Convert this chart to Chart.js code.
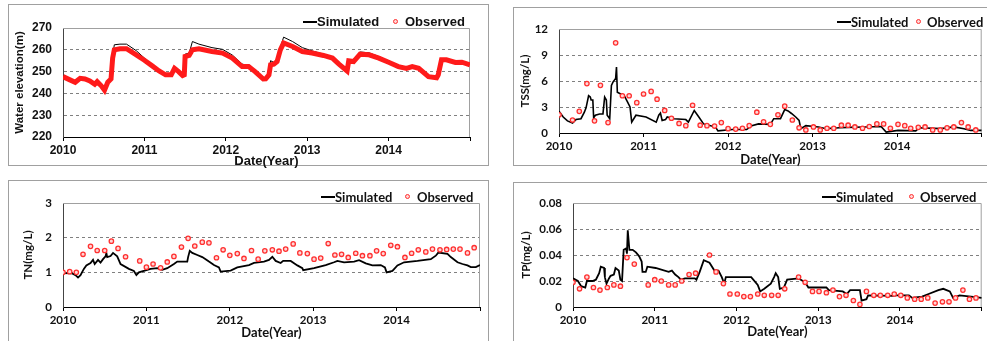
<!DOCTYPE html>
<html>
<head>
<meta charset="utf-8">
<script src="https://cdn.jsdelivr.net/npm/chart.js@4.4.1/dist/chart.umd.min.js"></script>
<style>
  body { margin: 0; background: #fff; width: 987px; height: 341px; overflow: hidden; position: relative; }
  .frame { position: absolute; border: 1px solid #a0a0a0; box-sizing: border-box; }
  canvas { position: absolute; }
  .lg { position: absolute; font-weight: bold; color: #111; white-space: nowrap; line-height: 14px; font-size: 13px; }
  .lg-line { position: absolute; height: 2px; background: #000; }
  .lg-dot { position: absolute; width: 3px; height: 3px; border: 1.3px solid #ff3030; border-radius: 50%; background: #ffd6d6; }
  .arial { font-family: "Liberation Sans", Arial, sans-serif; }
  .lato { font-family: Lato, "Noto Sans", sans-serif; }
</style>
</head>
<body>
<div class="frame" style="left:8px;top:4px;width:481px;height:162px"></div>
<div class="frame" style="left:513px;top:7px;width:500px;height:159px"></div>
<div class="frame" style="left:8px;top:180px;width:481px;height:200px"></div>
<div class="frame" style="left:513px;top:182px;width:500px;height:200px"></div>

<canvas id="chartElev" width="493" height="170" style="left:0;top:0"></canvas>
<canvas id="chartTss" width="482" height="170" style="left:505px;top:0"></canvas>
<canvas id="chartTn" width="493" height="169" style="left:0;top:172px"></canvas>
<canvas id="chartTp" width="482" height="169" style="left:505px;top:172px"></canvas>

<div id="legends"></div>

<script>
// Water elevation (m): simulated and observed share the same dates
const elevYears = [2010.00, 2010.085, 2010.15, 2010.21, 2010.27, 2010.33, 2010.39, 2010.42, 2010.47, 2010.51, 2010.55, 2010.59, 2010.61, 2010.63, 2010.70, 2010.78, 2010.90, 2011.00, 2011.10, 2011.18, 2011.26, 2011.33, 2011.37, 2011.42, 2011.47, 2011.49, 2011.50, 2011.55, 2011.59, 2011.67, 2011.83, 2011.96, 2012.08, 2012.20, 2012.28, 2012.36, 2012.46, 2012.49, 2012.53, 2012.55, 2012.59, 2012.63, 2012.67, 2012.71, 2012.82, 2012.94, 2013.06, 2013.20, 2013.31, 2013.39, 2013.49, 2013.51, 2013.57, 2013.65, 2013.76, 2013.88, 2014.00, 2014.12, 2014.22, 2014.29, 2014.37, 2014.49, 2014.59, 2014.61, 2014.65, 2014.71, 2014.82, 2014.90, 2015.00];
const elevSim = [247.9, 246.4, 245.3, 247.0, 246.8, 245.8, 244.4, 245.5, 243.5, 240.8, 245.0, 246.6, 256.5, 262.3, 262.6, 262.6, 259.6, 256.2, 253.0, 250.5, 248.6, 248.6, 251.8, 250.2, 248.3, 248.4, 258.0, 258.5, 263.8, 262.6, 261.0, 260.2, 257.6, 253.5, 252.6, 250.2, 246.6, 246.4, 248.6, 255.0, 254.2, 255.5, 261.0, 265.8, 263.8, 261.0, 259.5, 258.0, 256.8, 253.6, 250.5, 255.0, 255.0, 259.0, 258.6, 256.9, 254.9, 252.6, 251.6, 252.4, 251.6, 247.6, 246.8, 248.6, 255.8, 255.6, 254.4, 254.4, 253.2];
const elevObs = [247.7, 246.2, 245.1, 246.9, 246.6, 245.7, 244.2, 245.4, 243.5, 241.5, 245.1, 246.6, 256.2, 260.0, 260.5, 260.5, 257.7, 255.2, 252.5, 250.3, 248.5, 248.5, 251.5, 250.0, 248.2, 248.5, 256.9, 257.4, 260.0, 260.5, 259.2, 258.5, 256.2, 252.3, 252.3, 250.0, 246.6, 246.7, 248.5, 253.1, 253.4, 254.6, 260.0, 263.1, 261.5, 259.2, 258.5, 257.4, 256.2, 253.4, 250.3, 254.9, 254.6, 258.0, 257.7, 256.2, 254.3, 252.3, 251.5, 252.3, 251.5, 247.7, 247.2, 248.5, 255.4, 255.4, 254.2, 254.3, 253.1];

// TSS (mg/L)
const tssSimYears = [2010.00, 2010.05, 2010.10, 2010.16, 2010.20, 2010.26, 2010.30, 2010.32, 2010.35, 2010.37, 2010.38, 2010.40, 2010.41, 2010.43, 2010.48, 2010.52, 2010.54, 2010.56, 2010.57, 2010.60, 2010.62, 2010.64, 2010.67, 2010.68, 2010.69, 2010.73, 2010.77, 2010.81, 2010.84, 2010.86, 2010.91, 2011.03, 2011.15, 2011.18, 2011.20, 2011.22, 2011.26, 2011.28, 2011.36, 2011.50, 2011.53, 2011.60, 2011.65, 2011.71, 2011.85, 2011.88, 2012.05, 2012.22, 2012.27, 2012.36, 2012.50, 2012.54, 2012.62, 2012.67, 2012.71, 2012.75, 2012.80, 2012.84, 2012.86, 2012.92, 2013.07, 2013.16, 2013.32, 2013.42, 2013.62, 2013.81, 2013.87, 2014.01, 2014.22, 2014.26, 2014.52, 2014.67, 2014.79, 2014.87, 2015.00];
const tssSim = [2.5, 1.85, 1.4, 1.15, 1.55, 1.65, 2.4, 2.9, 4.3, 4.15, 3.8, 3.8, 1.75, 2.05, 2.2, 2.2, 4.15, 3.8, 2.05, 1.65, 5.5, 5.9, 6.3, 7.6, 4.7, 4.5, 4.35, 3.6, 3.0, 1.25, 2.05, 1.85, 1.25, 2.05, 2.3, 1.45, 1.55, 1.85, 1.65, 1.55, 1.25, 2.6, 1.9, 1.05, 0.7, 0.25, 0.4, 0.4, 0.8, 1.05, 1.0, 1.65, 1.65, 2.7, 2.55, 2.25, 1.85, 1.45, 0.5, 0.85, 0.7, 0.5, 0.6, 0.65, 0.7, 0.75, 0.1, 0.3, 0.25, 0.6, 0.5, 0.7, 0.5, 0.3, 0.3];
const tssObsYears = [2010.00, 2010.16, 2010.24, 2010.33, 2010.42, 2010.49, 2010.58, 2010.67, 2010.75, 2010.83, 2010.92, 2011.00, 2011.09, 2011.16, 2011.25, 2011.33, 2011.42, 2011.50, 2011.58, 2011.67, 2011.75, 2011.84, 2011.92, 2012.00, 2012.09, 2012.17, 2012.25, 2012.34, 2012.42, 2012.50, 2012.59, 2012.67, 2012.76, 2012.84, 2012.92, 2013.01, 2013.09, 2013.17, 2013.25, 2013.34, 2013.42, 2013.50, 2013.59, 2013.67, 2013.76, 2013.84, 2013.92, 2014.01, 2014.09, 2014.16, 2014.25, 2014.33, 2014.42, 2014.51, 2014.59, 2014.67, 2014.76, 2014.84, 2014.93];
const tssObs = [2.1, 1.5, 2.5, 5.7, 1.4, 5.5, 1.2, 10.4, 4.3, 4.3, 3.5, 4.5, 4.8, 3.9, 2.6, 1.7, 1.1, 0.85, 3.2, 0.9, 0.85, 0.8, 1.2, 0.5, 0.45, 0.55, 0.85, 2.4, 1.3, 1.0, 2.1, 3.1, 1.5, 0.6, 0.35, 0.7, 0.35, 0.55, 0.55, 0.9, 0.9, 0.7, 0.55, 0.75, 1.05, 1.05, 0.55, 1.0, 0.85, 0.55, 0.65, 0.7, 0.35, 0.35, 0.6, 0.7, 1.2, 0.7, 0.35];

// TN (mg/L)
const tnSimYears = [2010.00, 2010.11, 2010.15, 2010.18, 2010.21, 2010.25, 2010.28, 2010.33, 2010.36, 2010.38, 2010.42, 2010.45, 2010.48, 2010.51, 2010.52, 2010.53, 2010.57, 2010.60, 2010.65, 2010.69, 2010.79, 2010.85, 2010.88, 2010.91, 2011.05, 2011.13, 2011.19, 2011.25, 2011.33, 2011.37, 2011.49, 2011.50, 2011.52, 2011.55, 2011.61, 2011.67, 2011.71, 2011.75, 2011.81, 2011.87, 2011.89, 2012.01, 2012.09, 2012.23, 2012.29, 2012.41, 2012.47, 2012.51, 2012.55, 2012.61, 2012.64, 2012.73, 2012.81, 2012.87, 2012.88, 2013.01, 2013.15, 2013.25, 2013.29, 2013.37, 2013.49, 2013.55, 2013.63, 2013.71, 2013.81, 2013.86, 2013.88, 2013.95, 2014.01, 2014.09, 2014.25, 2014.41, 2014.47, 2014.50, 2014.61, 2014.65, 2014.73, 2014.79, 2014.85, 2014.89, 2014.95, 2015.00];
const tnSim = [0.98, 0.97, 0.92, 0.85, 0.92, 1.1, 1.2, 1.27, 1.36, 1.24, 1.36, 1.28, 1.38, 1.46, 1.56, 1.44, 1.47, 1.56, 1.46, 1.24, 1.1, 1.04, 0.92, 1.0, 1.1, 1.12, 1.07, 1.12, 1.24, 1.31, 1.31, 1.44, 1.62, 1.56, 1.5, 1.44, 1.38, 1.31, 1.21, 1.14, 1.02, 1.05, 1.14, 1.21, 1.27, 1.31, 1.36, 1.45, 1.33, 1.27, 1.33, 1.33, 1.2, 1.12, 1.06, 1.12, 1.21, 1.29, 1.33, 1.29, 1.31, 1.35, 1.26, 1.2, 1.21, 1.14, 1.0, 1.04, 1.2, 1.29, 1.33, 1.38, 1.48, 1.57, 1.53, 1.44, 1.29, 1.24, 1.2, 1.15, 1.15, 1.21];
const tnObsYears = [2010.00, 2010.08, 2010.16, 2010.24, 2010.33, 2010.41, 2010.50, 2010.58, 2010.66, 2010.75, 2010.92, 2011.00, 2011.08, 2011.17, 2011.25, 2011.33, 2011.42, 2011.50, 2011.58, 2011.67, 2011.75, 2011.84, 2011.92, 2012.00, 2012.09, 2012.17, 2012.26, 2012.34, 2012.42, 2012.51, 2012.59, 2012.67, 2012.76, 2012.84, 2012.93, 2013.01, 2013.09, 2013.18, 2013.26, 2013.34, 2013.42, 2013.51, 2013.59, 2013.68, 2013.76, 2013.84, 2013.93, 2014.01, 2014.10, 2014.18, 2014.26, 2014.35, 2014.43, 2014.52, 2014.60, 2014.68, 2014.76, 2014.85, 2014.93];
const tnObs = [1.0, 1.02, 1.0, 1.52, 1.75, 1.63, 1.63, 1.9, 1.69, 1.45, 1.33, 1.15, 1.24, 1.13, 1.3, 1.46, 1.73, 1.98, 1.76, 1.87, 1.85, 1.42, 1.65, 1.49, 1.54, 1.4, 1.63, 1.38, 1.62, 1.65, 1.61, 1.67, 1.82, 1.56, 1.54, 1.38, 1.41, 1.83, 1.5, 1.52, 1.43, 1.55, 1.48, 1.48, 1.62, 1.54, 1.78, 1.74, 1.43, 1.55, 1.65, 1.59, 1.67, 1.65, 1.66, 1.67, 1.67, 1.56, 1.71];

// TP (mg/L)
const tpSimYears = [2010.00, 2010.06, 2010.10, 2010.15, 2010.17, 2010.24, 2010.28, 2010.32, 2010.34, 2010.38, 2010.39, 2010.41, 2010.44, 2010.46, 2010.50, 2010.52, 2010.56, 2010.58, 2010.60, 2010.62, 2010.65, 2010.66, 2010.67, 2010.69, 2010.73, 2010.77, 2010.81, 2010.84, 2010.85, 2010.89, 2010.91, 2011.01, 2011.17, 2011.21, 2011.25, 2011.29, 2011.32, 2011.37, 2011.49, 2011.51, 2011.55, 2011.60, 2011.67, 2011.73, 2011.78, 2011.82, 2011.85, 2011.87, 2012.18, 2012.26, 2012.29, 2012.34, 2012.42, 2012.46, 2012.48, 2012.51, 2012.53, 2012.58, 2012.62, 2012.76, 2012.84, 2012.88, 2013.10, 2013.13, 2013.30, 2013.35, 2013.39, 2013.51, 2013.53, 2013.59, 2013.61, 2013.91, 2013.95, 2014.11, 2014.15, 2014.27, 2014.35, 2014.47, 2014.53, 2014.61, 2014.65, 2014.73, 2014.87, 2015.00];
const tpSim = [0.022, 0.02, 0.016, 0.015, 0.02, 0.02, 0.021, 0.026, 0.031, 0.03, 0.023, 0.018, 0.022, 0.024, 0.025, 0.03, 0.028, 0.021, 0.02, 0.044, 0.045, 0.041, 0.059, 0.044, 0.044, 0.042, 0.039, 0.035, 0.027, 0.027, 0.031, 0.03, 0.027, 0.028, 0.025, 0.023, 0.021, 0.022, 0.022, 0.021, 0.027, 0.036, 0.034, 0.028, 0.028, 0.023, 0.018, 0.023, 0.023, 0.017, 0.012, 0.014, 0.018, 0.023, 0.026, 0.023, 0.014, 0.015, 0.021, 0.022, 0.019, 0.015, 0.015, 0.013, 0.012, 0.01, 0.013, 0.013, 0.005, 0.006, 0.009, 0.0085, 0.009, 0.009, 0.007, 0.008, 0.01, 0.013, 0.014, 0.012, 0.007, 0.009, 0.008, 0.007];
const tpObsYears = [2010.00, 2010.08, 2010.17, 2010.25, 2010.33, 2010.42, 2010.50, 2010.58, 2010.66, 2010.75, 2010.92, 2011.00, 2011.08, 2011.17, 2011.25, 2011.33, 2011.42, 2011.50, 2011.67, 2011.75, 2011.84, 2011.92, 2012.01, 2012.09, 2012.17, 2012.26, 2012.34, 2012.43, 2012.51, 2012.59, 2012.76, 2012.84, 2012.93, 2013.01, 2013.10, 2013.18, 2013.26, 2013.34, 2013.43, 2013.51, 2013.59, 2013.68, 2013.76, 2013.85, 2013.93, 2014.01, 2014.09, 2014.18, 2014.26, 2014.34, 2014.43, 2014.52, 2014.60, 2014.68, 2014.77, 2014.85, 2014.93];
const tpObs = [0.019, 0.014, 0.023, 0.015, 0.013, 0.015, 0.017, 0.016, 0.038, 0.033, 0.017, 0.021, 0.02, 0.017, 0.017, 0.02, 0.025, 0.026, 0.04, 0.027, 0.018, 0.01, 0.01, 0.008, 0.008, 0.01, 0.009, 0.009, 0.009, 0.014, 0.023, 0.019, 0.012, 0.012, 0.011, 0.013, 0.008, 0.009, 0.005, 0.002, 0.012, 0.009, 0.009, 0.009, 0.01, 0.009, 0.007, 0.006, 0.006, 0.007, 0.003, 0.004, 0.004, 0.007, 0.013, 0.006, 0.007];

const frameColor = "#a0a0a0";

function toPoints(xs, ys) {
  return xs.map((x, i) => ({ x: x, y: ys[i] }));
}

// grey top/right border of the plot area (Excel style)
const plotFrame = {
  id: "plotFrame",
  beforeDatasetsDraw(chart) {
    const { ctx, chartArea: a } = chart;
    ctx.save();
    ctx.strokeStyle = frameColor;
    ctx.lineWidth = 1;
    ctx.beginPath();
    ctx.moveTo(a.left, a.top + 0.5);
    ctx.lineTo(a.right - 0.5, a.top + 0.5);
    ctx.lineTo(a.right - 0.5, a.bottom);
    ctx.stroke();
    ctx.restore();
  },
};

function crearPanel(canvasId, cfg) {
  const canvas = document.getElementById(canvasId);
  const W = canvas.width;
  const H = canvas.height;
  const p = cfg.plot;
  const tickFont = { family: cfg.family, size: cfg.tickSize, weight: "bold" };

  return new Chart(canvas.getContext("2d"), {
    type: "line",
    data: { datasets: cfg.datasets },
    options: {
      responsive: false,
      animation: false,
      layout: { padding: { left: 0, top: p.top, right: W - p.right, bottom: 0 } },
      plugins: { legend: { display: false }, tooltip: { enabled: false } },
      scales: {
        x: {
          type: "linear",
          min: 2010,
          max: 2015,
          afterFit: (s) => { s.height = H - p.bottom; },
          ticks: {
            stepSize: 1,
            autoSkip: false,
            maxRotation: 0,
            padding: 2,
            color: "#111",
            font: tickFont,
            callback: (v) => (v < 2015 ? String(v) : ""),
          },
          grid: { drawOnChartArea: false, tickLength: 4, color: "#000" },
          border: { color: "#000", width: 1 },
          title: {
            display: true,
            text: "Date(Year)",
            color: "#111",
            font: { family: cfg.family, size: cfg.xTitleSize, weight: "bold" },
            padding: { top: 0, bottom: cfg.xTitlePad },
          },
        },
        y: {
          min: cfg.yMin,
          max: cfg.yMax,
          afterFit: (s) => { s.width = p.left; },
          ticks: { stepSize: cfg.yStep, padding: 11, color: "#111", font: tickFont },
          grid: {
            drawTicks: false,
            color: (ctx) => {
              const v = ctx.tick ? ctx.tick.value : null;
              return v === cfg.yMin || v === cfg.yMax ? "rgba(0,0,0,0)" : "#808080";
            },
          },
          border: { color: "#444", dash: [3, 3] },
          title: {
            display: true,
            text: cfg.yTitle,
            color: "#111",
            font: { family: cfg.family, size: cfg.yTitleSize, weight: "bold" },
            padding: { top: cfg.yTitlePad, bottom: 0 },
          },
        },
      },
    },
    plugins: [plotFrame],
  });
}

function observado(xs, ys) {
  return {
    label: "Observed",
    data: toPoints(xs, ys),
    showLine: false,
    pointRadius: 2.2,
    pointBorderWidth: 1.3,
    pointBorderColor: "#ff3030",
    pointBackgroundColor: "#ffd6d6",
  };
}

function simulado(xs, ys, width) {
  return {
    label: "Simulated",
    data: toPoints(xs, ys),
    borderColor: "#000",
    borderWidth: width,
    pointRadius: 0,
    tension: 0,
  };
}

crearPanel("chartElev", {
  plot: { left: 63, right: 470, top: 28, bottom: 137 },
  family: "'Liberation Sans', Arial, sans-serif",
  tickSize: 12, xTitleSize: 13, xTitlePad: 1, yTitleSize: 11.5, yTitlePad: 13,
  yMin: 220, yMax: 270, yStep: 10, yTitle: "Water elevation(m)",
  datasets: [
    {
      label: "Observed",
      data: toPoints(elevYears, elevObs),
      borderColor: "#ff1a1a",
      borderWidth: 5,
      pointRadius: 0,
      tension: 0,
    },
    simulado(elevYears, elevSim, 1),
  ],
});

crearPanel("chartTss", {
  plot: { left: 54, right: 479, top: 29, bottom: 133 },
  family: "Lato, 'Noto Sans', sans-serif",
  tickSize: 11.5, xTitleSize: 13, xTitlePad: 2.5, yTitleSize: 11.5, yTitlePad: 13,
  yMin: 0, yMax: 12, yStep: 3, yTitle: "TSS(mg/L)",
  datasets: [observado(tssObsYears, tssObs), simulado(tssSimYears, tssSim, 1.6)],
});

crearPanel("chartTn", {
  plot: { left: 63, right: 480, top: 31, bottom: 135 },
  family: "Lato, 'Noto Sans', sans-serif",
  tickSize: 11.5, xTitleSize: 13, xTitlePad: 0, yTitleSize: 11.5, yTitlePad: 21,
  yMin: 0, yMax: 3, yStep: 1, yTitle: "TN(mg/L)",
  datasets: [observado(tnObsYears, tnObs), simulado(tnSimYears, tnSim, 1.8)],
});

crearPanel("chartTp", {
  plot: { left: 68, right: 481, top: 31, bottom: 135 },
  family: "Lato, 'Noto Sans', sans-serif",
  tickSize: 11.5, xTitleSize: 13, xTitlePad: 1, yTitleSize: 11.5, yTitlePad: 14,
  yMin: 0, yMax: 0.08, yStep: 0.02, yTitle: "TP(mg/L)",
  datasets: [observado(tpObsYears, tpObs), simulado(tpSimYears, tpSim, 1.8)],
});

// HTML legends: [lineStart, textStart, dotCenter, obsTextStart, centerY, fontClass]
const leyendas = [
  [303, 317, 396, 405, 22, "arial"],
  [837, 851, 919, 927, 22, "lato"],
  [321, 335, 408, 417, 197, "lato"],
  [822, 836, 912, 920, 197, "lato"],
];

const contenedor = document.getElementById("legends");
leyendas.forEach(([lx, tx, dx, ox, cy, fam]) => {
  contenedor.insertAdjacentHTML(
    "beforeend",
    `<div class="lg-line" style="left:${lx}px;top:${cy - 1}px;width:${tx - lx}px"></div>` +
    `<div class="lg ${fam}" style="left:${tx}px;top:${cy - 7}px">Simulated</div>` +
    `<div class="lg-dot" style="left:${dx - 3}px;top:${cy - 3}px"></div>` +
    `<div class="lg ${fam}" style="left:${ox}px;top:${cy - 7}px">Observed</div>`
  );
});
</script>
</body>
</html>
